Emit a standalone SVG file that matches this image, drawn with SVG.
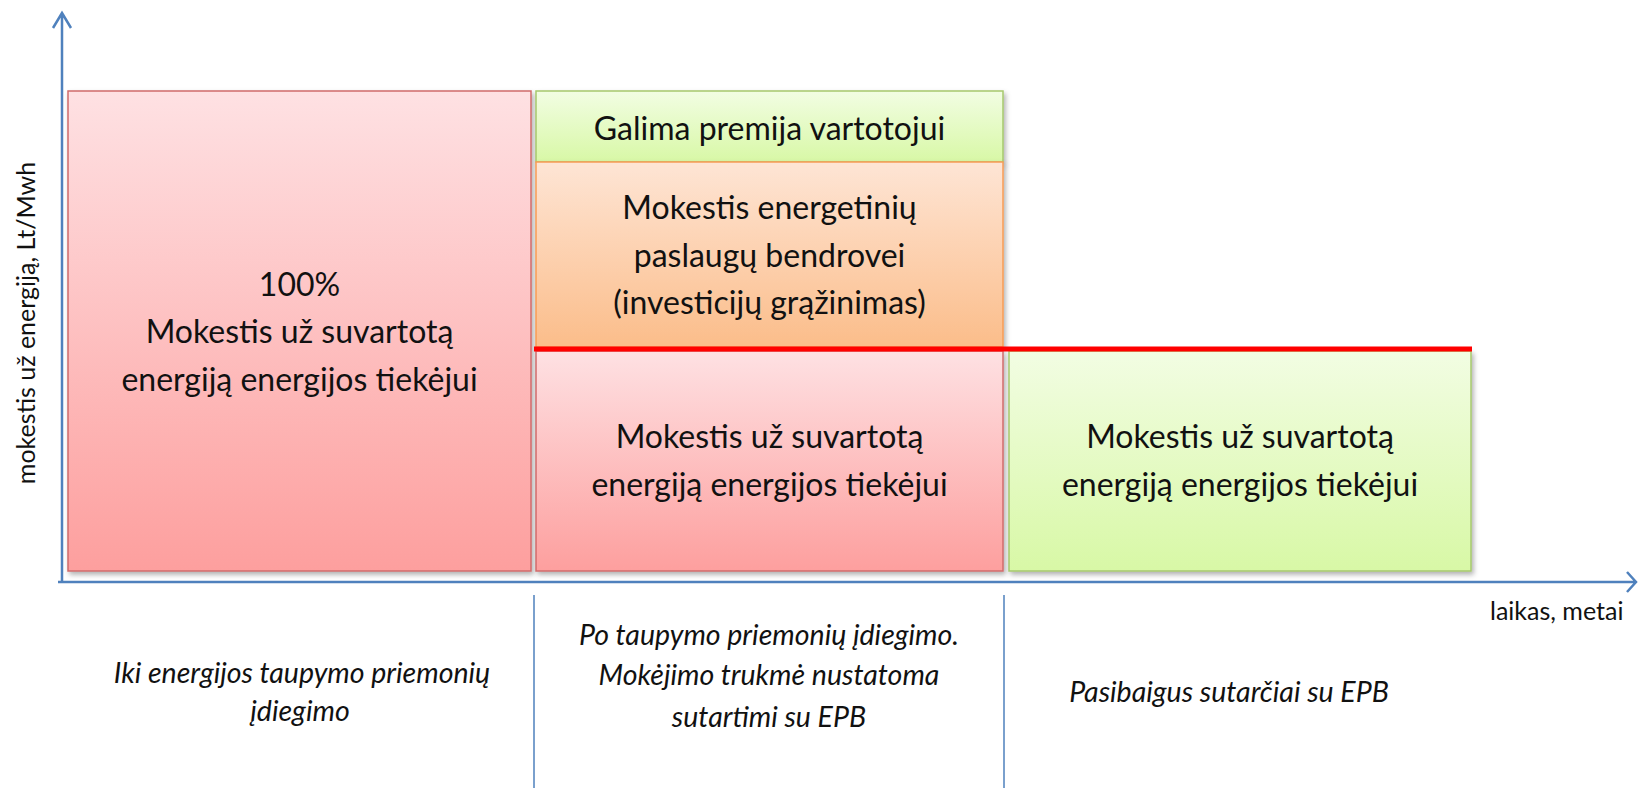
<svg xmlns="http://www.w3.org/2000/svg" width="1638" height="788" viewBox="0 0 1638 788">
<style>
.t{font-family:Lato,"Open Sans","Liberation Sans",sans-serif;font-size:32px;fill:#111;text-anchor:middle}
.it{font-family:Lato,"Open Sans","Liberation Sans",sans-serif;font-size:28.5px;font-style:italic;fill:#111;text-anchor:middle}
.ax{font-family:Lato,"Open Sans","Liberation Sans",sans-serif;font-size:25px;fill:#111}
.axis{stroke:#4f81bd;stroke-width:2.5;fill:none}
.sep{stroke:#4f81bd;stroke-width:1.5;fill:none}
.pink{fill:url(#gPink);stroke:#cf6b6b;stroke-width:1.5}
.green{fill:url(#gGreen);stroke:#a6c86e;stroke-width:1.5}
.orange{fill:url(#gOrange);stroke:#f79c55;stroke-width:1.5}
</style>
<defs>
<linearGradient id="gPink" x1="0" y1="0" x2="0" y2="1"><stop offset="0" stop-color="#fee1e3"/><stop offset="1" stop-color="#fd9f9e"/></linearGradient>
<linearGradient id="gGreen" x1="0" y1="0" x2="0" y2="1"><stop offset="0" stop-color="#f2fde3"/><stop offset="1" stop-color="#d8f8a6"/></linearGradient>
<linearGradient id="gOrange" x1="0" y1="0" x2="0" y2="1"><stop offset="0" stop-color="#fee5d5"/><stop offset="1" stop-color="#fbbd8a"/></linearGradient>
<filter id="sh" x="-10%" y="-10%" width="120%" height="125%"><feDropShadow dx="2" dy="3" stdDeviation="2.5" flood-color="#000" flood-opacity="0.3"/></filter>
</defs>

<g id="axes">
<path class="axis" d="M62,582 V13 M53,28 L62,13 L71,28"/>
<path class="axis" d="M58,582 H1636 M1627,572 L1636,582 L1627,592"/>
<path class="sep" d="M534,595 V788 M1004,595 V788"/>
<text class="ax" transform="translate(35,323) rotate(-90)" text-anchor="middle">mokestis už energiją, Lt/Mwh</text>
<text class="ax" x="1490" y="620">laikas, metai</text>
</g>

<g id="node-left">
<rect class="pink" x="68" y="91" width="463" height="480" filter="url(#sh)"/>
<text class="t" x="299.5" y="296">100%</text>
<text class="t" x="299.5" y="343">Mokestis už suvartotą</text>
<text class="t" x="299.5" y="391">energiją energijos tiekėjui</text>
</g>

<g id="node-premija">
<rect class="green" x="536" y="91" width="467" height="71" filter="url(#sh)"/>
<text class="t" x="769.5" y="140">Galima premija vartotojui</text>
</g>

<g id="node-epb">
<rect class="orange" x="536" y="162" width="467" height="185" filter="url(#sh)"/>
<text class="t" x="769.5" y="219">Mokestis energetinių</text>
<text class="t" x="769.5" y="267">paslaugų bendrovei</text>
<text class="t" x="769.5" y="314">(investicijų grąžinimas)</text>
</g>

<g id="node-mid">
<rect class="pink" x="536" y="351" width="467" height="220" filter="url(#sh)"/>
<text class="t" x="769.5" y="448">Mokestis už suvartotą</text>
<text class="t" x="769.5" y="496">energiją energijos tiekėjui</text>
</g>

<g id="node-right">
<rect class="green" x="1009" y="351" width="462" height="220" filter="url(#sh)"/>
<text class="t" x="1240" y="448">Mokestis už suvartotą</text>
<text class="t" x="1240" y="496">energiją energijos tiekėjui</text>
</g>

<g id="connectors">
<path d="M534,349 H1472" stroke="#ff0000" stroke-width="5" fill="none"/>
</g>

<g id="captions">
<text class="it" x="302" y="683">Iki energijos taupymo priemonių</text>
<text class="it" x="300" y="721">įdiegimo</text>
<text class="it" x="769" y="645">Po taupymo priemonių įdiegimo.</text>
<text class="it" x="769" y="685">Mokėjimo trukmė nustatoma</text>
<text class="it" x="769" y="727">sutartimi su EPB</text>
<text class="it" x="1229" y="702">Pasibaigus sutarčiai su EPB</text>
</g>
</svg>
